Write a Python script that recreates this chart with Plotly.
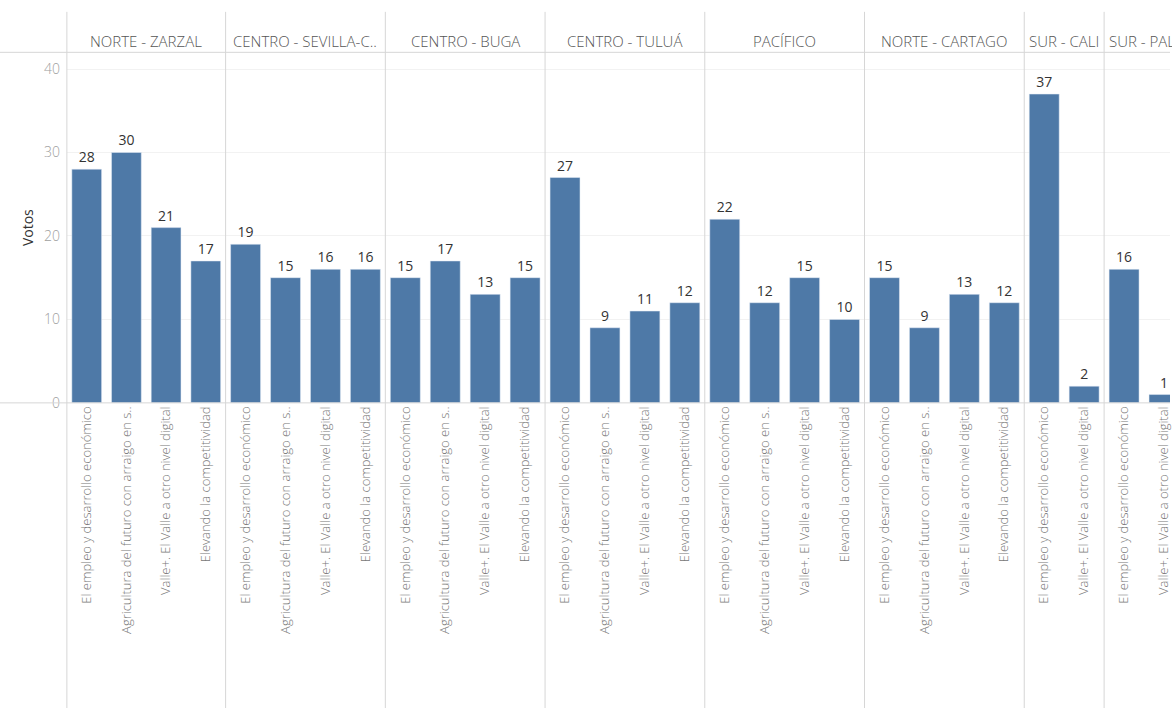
import plotly.graph_objects as go

# regiones (encabezados de panel)
regiones = ["NORTE - ZARZAL", "CENTRO - SEVILLA-C..", "CENTRO - BUGA", "CENTRO - TULUÁ",
            "PACÍFICO", "NORTE - CARTAGO", "SUR - CALI", "SUR - PALMIRA"]

empleo = "El empleo y desarrollo económico"
agricultura = "Agricultura del futuro con arraigo en s.."
valle = "Valle+. El Valle a otro nivel digital"
elevando = "Elevando la competitividad"

cats_4 = [empleo, agricultura, valle, elevando]
cats_2 = [empleo, valle]

zarzal = [28, 30, 21, 17]
sevilla = [19, 15, 16, 16]
buga = [15, 17, 13, 15]
tulua = [27, 9, 11, 12]
pacifico = [22, 12, 15, 10]
cartago = [15, 9, 13, 12]
cali = [37, 2]
palmira = [16, 1]

valores = [zarzal, sevilla, buga, tulua, pacifico, cartago, cali, palmira]
categorias = [cats_4, cats_4, cats_4, cats_4, cats_4, cats_4, cats_2, cats_2]

W, H = 1172, 717


def px(x):
    return x / W


def py(y):
    return (H - y) / H


bordes = [67, 226, 386, 546, 706, 866, 1026, 1106, 1172]
y_cero = 408
y_cab = 53
azul = "#4e79a7"
fuente = "Open Sans"
gris_linea = "#d6d6d6"

fig = go.Figure()
dom_y = [py(y_cero), py(y_cab)]

for i, (reg, vals, cats) in enumerate(zip(regiones, valores, categorias)):
    n = i + 1
    xa = "x" if n == 1 else f"x{n}"
    ya = "y" if n == 1 else f"y{n}"
    fig.add_trace(go.Bar(
        x=cats, y=vals, xaxis=xa, yaxis=ya, marker_color=azul,
        text=vals, textposition="outside", cliponaxis=False,
        textfont=dict(size=14, color="#333333", family=fuente),
        showlegend=False, hoverinfo="x+y"))
    x0, x1 = bordes[i], bordes[i + 1]
    # el ultimo panel aparece recortado por el borde derecho
    rng = [-0.5, len(cats) - 0.5] if i < 7 else [-0.5, -0.5 + (x1 - x0) / 40]
    fig.layout[f"xaxis{'' if n == 1 else n}"] = dict(
        domain=[px(x0), px(x1)], anchor=ya, type="category", range=rng,
        tickangle=-90, showgrid=False, zeroline=False, showline=False, ticks="",
        tickfont=dict(size=13, color="#777777", family=fuente, weight=300))
    fig.layout[f"yaxis{'' if n == 1 else n}"] = dict(
        domain=dom_y, anchor=xa, range=[0, 42.0], dtick=10,
        showgrid=True, gridcolor="#f2f2f2", zeroline=False, showline=False,
        showticklabels=(n == 1), ticklabelstandoff=6,
        tickfont=dict(size=14, color="#a0a0a0", family=fuente, weight=300))
    cx = px((x0 + x1) / 2) if i < 7 else px(x0 + 3)
    fig.add_annotation(text=reg, x=cx, y=py(42), xref="paper", yref="paper",
                       xanchor="center" if i < 7 else "left", yanchor="middle",
                       showarrow=False,
                       font=dict(size=15, color="#555555", family=fuente, weight=300))

fig.add_annotation(text="Votos", x=px(27), y=py(230), xref="paper", yref="paper",
                   xanchor="center", yanchor="middle", textangle=-90, showarrow=False,
                   font=dict(size=14, color="#333333", family=fuente))

lineas = []
for b in bordes[:-1]:
    lineas.append(dict(type="line", xref="paper", yref="paper", x0=px(b), x1=px(b),
                       y0=0, y1=py(12), line=dict(color=gris_linea, width=1)))
lineas.append(dict(type="line", xref="paper", yref="paper", x0=0, x1=1,
                   y0=py(y_cab), y1=py(y_cab), line=dict(color=gris_linea, width=1)))
lineas.append(dict(type="line", xref="paper", yref="paper", x0=0, x1=1,
                   y0=py(y_cero), y1=py(y_cero), line=dict(color=gris_linea, width=1)))

fig.update_layout(width=W, height=H, margin=dict(l=0, r=0, t=0, b=0),
                  plot_bgcolor="white", paper_bgcolor="white", bargap=0.25,
                  shapes=lineas, font=dict(family=fuente))
# sin margen del body para que la figura ocupe toda la ventana
fig.write_html("out.html", config={"displayModeBar": False},
               post_script="document.body.style.margin='0';document.body.style.overflow='hidden';")
